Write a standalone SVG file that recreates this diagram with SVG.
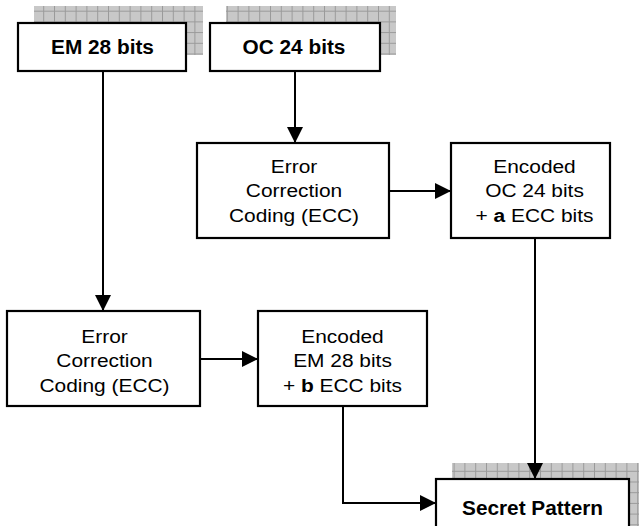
<svg xmlns="http://www.w3.org/2000/svg" width="639" height="526" viewBox="0 0 639 526">
<defs>
<pattern id="hatch" patternUnits="userSpaceOnUse" x="0" y="0" width="10.8" height="10.7">
<rect width="10.8" height="10.7" fill="#c8c8c8"/>
<path d="M0.5 0V10.7M0 0.5H10.8" stroke="#9a9a9a" stroke-width="1" fill="none"/>
</pattern>
<marker id="arr" markerUnits="userSpaceOnUse" markerWidth="16" markerHeight="16" refX="15" refY="7.5" orient="auto" viewBox="0 0 15 15">
<path d="M0 0L15 7.5L0 15Z" fill="#000"/>
</marker>
<style>
.box{fill:#fff;stroke:#000;stroke-width:2.2}
.shadow{fill:url(#hatch)}
.reg{font-family:"Liberation Sans",Arial,sans-serif;font-size:19px;text-anchor:middle;fill:#000}
.bold{font-family:"Liberation Sans",Arial,sans-serif;font-size:20px;font-weight:bold;text-anchor:middle;fill:#000}
.conn{fill:none;stroke:#000;stroke-width:2}
</style>
</defs>
<rect width="639" height="526" fill="#fff"/>

<g id="em">
<rect class="shadow" x="34" y="6" width="169" height="49"/>
<rect class="box" x="18" y="23" width="168" height="48"/>
<g transform="translate(102.5,0) scale(1.04,1)"><text class="bold" x="0" y="54.3">EM 28 bits</text></g>
</g>

<g id="oc">
<rect class="shadow" x="226" y="6" width="170" height="49"/>
<rect class="box" x="210" y="23" width="170" height="48"/>
<g transform="translate(294,0) scale(1.04,1)"><text class="bold" x="0" y="54.3">OC 24 bits</text></g>
</g>

<g id="ecc1">
<rect class="box" x="197" y="143" width="192" height="95"/>
<g transform="translate(294,0) scale(1.1,1)">
<text class="reg" x="0" y="173">Error</text>
<text class="reg" x="0" y="197.5">Correction</text>
<text class="reg" x="0" y="222">Coding (ECC)</text>
</g>
</g>

<g id="encoc">
<rect class="box" x="451" y="143" width="159" height="95"/>
<g transform="translate(534.5,0) scale(1.1,1)">
<text class="reg" x="0" y="173">Encoded</text>
<text class="reg" x="0" y="197.5">OC 24 bits</text>
<text class="reg" x="0" y="222">+ <tspan font-weight="bold">a</tspan> ECC bits</text>
</g>
</g>

<g id="ecc2">
<rect class="box" x="7" y="311" width="193" height="95"/>
<g transform="translate(104.5,0) scale(1.1,1)">
<text class="reg" x="0" y="343">Error</text>
<text class="reg" x="0" y="367.5">Correction</text>
<text class="reg" x="0" y="392">Coding (ECC)</text>
</g>
</g>

<g id="encem">
<rect class="box" x="258" y="311" width="169" height="95"/>
<g transform="translate(342.5,0) scale(1.1,1)">
<text class="reg" x="0" y="343">Encoded</text>
<text class="reg" x="0" y="367.5">EM 28 bits</text>
<text class="reg" x="0" y="392">+ <tspan font-weight="bold">b</tspan> ECC bits</text>
</g>
</g>

<g id="secret">
<rect class="shadow" x="452" y="463" width="190" height="70"/>
<rect class="box" x="436" y="479" width="193" height="60"/>
<g transform="translate(532.5,0) scale(1.04,1)"><text class="bold" x="0" y="515">Secret Pattern</text></g>
</g>

<g id="connectors">
<path class="conn" d="M103 71V311" marker-end="url(#arr)"/>
<path class="conn" d="M295 71V143" marker-end="url(#arr)"/>
<path class="conn" d="M389 191H451" marker-end="url(#arr)"/>
<path class="conn" d="M200 359H258" marker-end="url(#arr)"/>
<path class="conn" d="M535 238V479" marker-end="url(#arr)"/>
<path class="conn" d="M343 406V503H436" marker-end="url(#arr)"/>
</g>
</svg>
